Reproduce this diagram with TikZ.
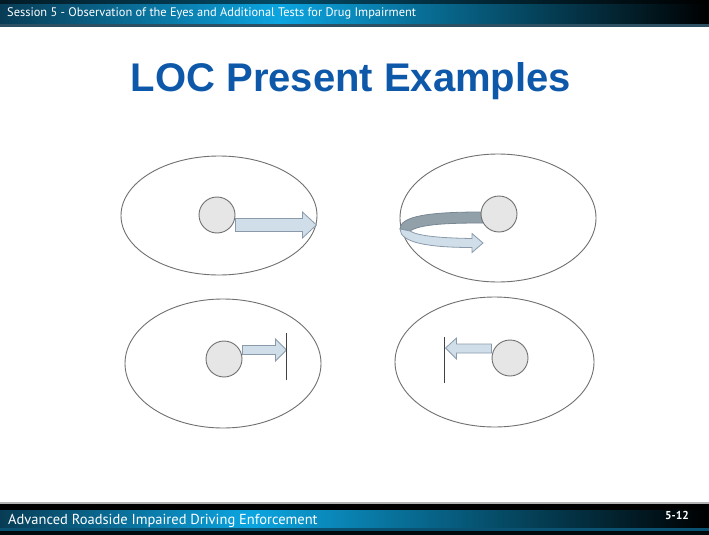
\documentclass[tikz,border=0pt]{standalone}
\usepackage{fontspec}
\setmainfont{Liberation Sans}
\newfontfamily\barfont{PT Sans}
\usetikzlibrary{shapes.geometric}
\definecolor{titleblue}{RGB}{14,88,170}
\definecolor{barcyan}{RGB}{12,165,225}
\definecolor{barteal}{RGB}{8,60,85}
\definecolor{eyeline}{RGB}{112,112,112}
\definecolor{irisfill}{RGB}{230,230,230}
\definecolor{arrowfill}{RGB}{208,222,234}
\definecolor{arrowline}{RGB}{138,154,170}
\definecolor{bandfill}{RGB}{146,160,170}
\definecolor{bandline}{RGB}{120,135,148}
\tikzset{
  eye/.style={ellipse, draw=eyeline, line width=0.9pt, inner sep=0pt},
  iris/.style={circle, draw=eyeline, fill=irisfill, line width=0.9pt, minimum size=36pt, inner sep=0pt},
  blockarrow/.style={fill=arrowfill, draw=arrowline, line width=0.8pt, line join=miter},
  darkband/.style={fill=bandfill, draw=bandline, line width=0.8pt},
  stopline/.style={draw=black!75, line width=0.9pt},
  bartext/.style={text=white, anchor=base west, inner sep=0pt, font=\barfont},
}
\begin{document}
\begin{tikzpicture}[x=1pt,y=-1pt]
\useasboundingbox (0,0) rectangle (709,535);
\fill[white] (0,0) rectangle (709,535);
% header bar
\shade[left color=barteal, right color=barcyan] (0,0) rectangle (280,24);
\shade[left color=barcyan, right color=black] (280,0) rectangle (709,24);
\shade[top color=black, bottom color=black, opacity=0.55] (0,0) rectangle (709,4);
\fill[barteal!70!gray] (0,24) rectangle (709,27);
\node[bartext, font=\barfont\fontsize{12.4}{14}\selectfont] (head) at (7,17) {Session 5 - Observation of the Eyes and Additional Tests for Drug Impairment};
% footer bar
\fill[gray!60] (0,502) rectangle (709,504);
\fill[black] (0,504) rectangle (709,510);
\shade[left color=barteal, right color=barcyan] (0,510) rectangle (250,528);
\shade[left color=barcyan, right color=black] (250,510) rectangle (709,528);
\fill[barteal!80!barcyan] (0,528) rectangle (709,530.5);
\fill[black!85!barteal] (0,530.5) rectangle (709,535);
\node[bartext, font=\barfont\fontsize{14.5}{16}\selectfont] (foot) at (8,524) {Advanced Roadside Impaired Driving Enforcement};
\node[bartext, font=\barfont\bfseries\fontsize{11.5}{13}\selectfont] (page) at (665,519) {5-12};
% title
\node[text=titleblue, font=\bfseries\fontsize{40}{44}\selectfont, anchor=base, inner sep=0pt] (title) at (351,91) {LOC Present Examples};
% eye 1 (top left)
\node[eye, minimum width=196pt, minimum height=119pt] (e1) at (219,215.5) {};
\node[iris] (c1) at (217,215) {};
\path[blockarrow] ([yshift=-3.5pt]c1.east) -- ++(67,0) -- ++(0,-6.5) -- ++(14,13) -- ++(-14,13) -- ++(0,-6.5) -- ++(-67,0) -- cycle;
% eye 2 (top right)
\node[eye, minimum width=196pt, minimum height=128pt] (e2) at (498,218) {};
\path[darkband] (487,212) -- (481,212) .. controls (430,212) and (400,216) .. (400,229)
  -- (410,231) .. controls (420,224) and (450,223) .. (481,223) -- (487,223) -- cycle;
\path[blockarrow] (400,229) .. controls (400,243) and (430,247.5) .. (472,247.5) -- (472,252.5) -- (483,243) -- (472,233.5) -- (472,238.5)
  .. controls (440,238) and (418,236) .. (410,231) -- cycle;
\node[iris] (c2) at (499,214) {};
% eye 3 (bottom left)
\node[eye, minimum width=196pt, minimum height=129pt] (e3) at (223,363.5) {};
\node[iris] (c3) at (224,359) {};
\path[blockarrow] ([yshift=4.5pt]c3.east) -- ++(33,0) -- ++(0,6.5) -- ++(11,-11) -- ++(-11,-11) -- ++(0,6.5) -- ++(-33,0) -- cycle;
\coordinate (l3a) at (286,333);
\coordinate (l3b) at (286,380);
\draw[stopline] (l3a) -- (l3b);
% eye 4 (bottom right)
\node[eye, minimum width=199pt, minimum height=130pt] (e4) at (494.5,362) {};
\node[iris] (c4) at (510,358) {};
\path[blockarrow] ([yshift=5pt]c4.west) -- ++(-35,0) -- ++(0,6) -- ++(-11,-11) -- ++(11,-10) -- ++(0,6) -- ++(35,0) -- cycle;
\coordinate (l4a) at (444,337);
\coordinate (l4b) at (444,383);
\draw[stopline] (l4a) -- (l4b);
\end{tikzpicture}
\end{document}
